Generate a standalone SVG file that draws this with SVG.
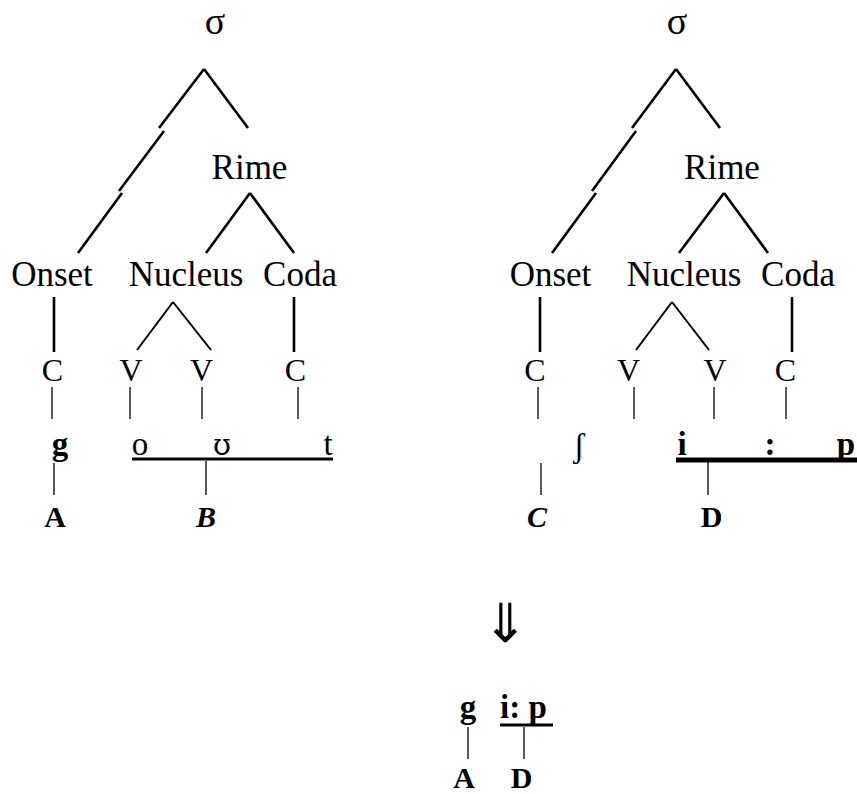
<svg xmlns="http://www.w3.org/2000/svg" width="857" height="794" viewBox="0 0 857 794">
<style>
text{font-family:"Liberation Serif","DejaVu Serif",serif;fill:#000;text-anchor:middle}
.sig{font-size:38px}
.lab{font-size:35px}
.cv{font-size:32px}
.seg{font-size:33px}
.ipa{font-family:"DejaVu Serif",serif;font-size:29px}
.lbl{font-size:30px}
.b{font-weight:bold}
.bi{font-weight:bold;font-style:italic}
.thick{stroke:#000;stroke-width:2.6;fill:none}
.mid{stroke:#000;stroke-width:2;fill:none}
.thin{stroke:#000;stroke-width:1.3;fill:none}
.ul{stroke:#000;stroke-width:3;fill:none}
.ulb{stroke:#000;stroke-width:5;fill:none}
.arr{font-family:"DejaVu Sans",sans-serif;font-size:54px}
</style>
<rect width="857" height="794" fill="#fff"/>
<g id="connectors">
<path class="thick" d="M204,69L159,128M204,69L248,128M164,131L119,191M122,193L78,253M250,193L206,253M250,193L294,253"/>
<path class="thick" d="M54,297V352M294,297V352"/>
<path class="mid" d="M173,302L137,350M173,302L211,350"/>
<path class="thin" d="M52,387V419M130,387V419M202,387V419M298,387V419M54,463V495M206,461V495"/>
<path class="ul" d="M132,459H333"/>
<path class="thick" d="M676,69L632,128M676,69L720,128M636,131L592,191M596,193L552,253M724,193L679,253M724,193L768,253"/>
<path class="thick" d="M540,297V352M792,297V352"/>
<path class="mid" d="M672,302L636,350M672,302L709,350"/>
<path class="thin" d="M538,387V419M634,387V419M714,387V419M786,387V419M541,463V495M708,462V495"/>
<path class="ulb" d="M676,460H857"/>
<path class="ul" d="M500,725H553"/>
<path class="thin" d="M468,727V759M524,727V759"/>
</g>
<g id="left-sigma"><text class="sig" x="215" y="34">σ</text></g>
<g id="left-rime"><text class="lab" x="249.5" y="179">Rime</text></g>
<g id="left-onset"><text class="lab" x="52" y="286">Onset</text></g>
<g id="left-nucleus"><text class="lab" x="186" y="286">Nucleus</text></g>
<g id="left-coda"><text class="lab" x="300" y="286">Coda</text></g>
<g id="left-C1"><text class="cv" x="52.5" y="381">C</text></g>
<g id="left-V1"><text class="cv" x="131" y="381">V</text></g>
<g id="left-V2"><text class="cv" x="201.5" y="381">V</text></g>
<g id="left-C2"><text class="cv" x="295.5" y="381">C</text></g>
<g id="left-g"><text class="seg b" x="60" y="455">g</text></g>
<g id="left-out"><text class="seg" x="140" y="455">o</text><text class="ipa" x="222" y="455">ʊ</text><text class="seg" x="328" y="455">t</text></g>
<g id="left-A"><text class="lbl b" x="55" y="527">A</text></g>
<g id="left-B"><text class="lbl bi" x="206" y="527">B</text></g>
<g id="right-sigma"><text class="sig" x="677" y="34">σ</text></g>
<g id="right-rime"><text class="lab" x="722" y="179">Rime</text></g>
<g id="right-onset"><text class="lab" x="550.5" y="286">Onset</text></g>
<g id="right-nucleus"><text class="lab" x="684" y="286">Nucleus</text></g>
<g id="right-coda"><text class="lab" x="798" y="286">Coda</text></g>
<g id="right-C1"><text class="cv" x="535" y="381">C</text></g>
<g id="right-V1"><text class="cv" x="628.5" y="381">V</text></g>
<g id="right-V2"><text class="cv" x="715" y="381">V</text></g>
<g id="right-C2"><text class="cv" x="785.5" y="381">C</text></g>
<g id="right-sh"><text class="seg" x="579" y="457">ʃ</text></g>
<g id="right-iip"><text class="seg b" x="682" y="455">i</text><text class="seg b" x="770" y="455">:</text><text class="seg b" x="846" y="455">p</text></g>
<g id="right-C"><text class="lbl bi" x="537" y="527">C</text></g>
<g id="right-D"><text class="lbl b" x="711.5" y="527">D</text></g>
<g id="arrow"><text class="arr" x="505" y="642">⇓</text></g>
<g id="result-g"><text class="seg b" x="468" y="718">g</text></g>
<g id="result-ip"><text class="seg b" x="500" y="718" style="text-anchor:start">i: p</text></g>
<g id="result-A"><text class="lbl b" x="464" y="788">A</text></g>
<g id="result-D"><text class="lbl b" x="521.5" y="788">D</text></g>
</svg>
